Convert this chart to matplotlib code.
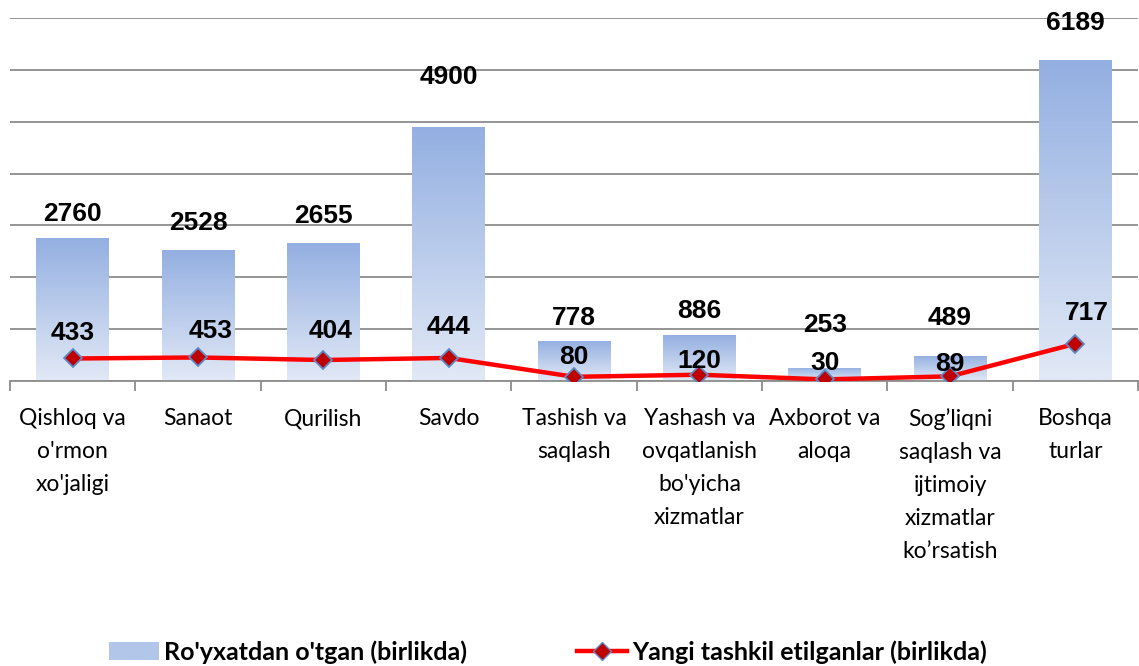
import matplotlib.pyplot as plt
import numpy as np
from matplotlib.colors import LinearSegmentedColormap
from matplotlib.lines import Line2D
from matplotlib.patches import Patch

categories = ["Qishloq va\no'rmon\nxo'jaligi", "Sanaot", "Qurilish", "Savdo",
              "Tashish va\nsaqlash", "Yashash va\novqatlanish\nbo'yicha\nxizmatlar",
              "Axborot va\naloqa", "Sog\u2019liqni\nsaqlash va\nijtimoiy\nxizmatlar\nko\u2019rsatish",
              "Boshqa\nturlar"]
registered = [2760, 2528, 2655, 4900, 778, 886, 253, 489, 6189]
new_created = [433, 453, 404, 444, 80, 120, 30, 89, 717]
legend_labels = ["Ro'yxatdan o'tgan (birlikda)", "Yangi tashkil etilganlar (birlikda)"]

# label offsets in points (manual placement as in the original)
bar_label_dy = [17, 19, 20, 36, 16, 17, 31, 27, 27]
line_label_dx = [0, 9, 5, 0, 0, 0, 0, 0, 8]
line_label_dy = [18, 19, 21, 22, 14, 10, 12, 9, 22]

plt.rcParams['font.family'] = ['Lato', 'DejaVu Sans']

fig = plt.figure(figsize=(11.39, 6.66), dpi=100)
ax = fig.add_axes([0.0088, 0.428, 0.9904, 0.545])

x = np.arange(len(categories))
bars = ax.bar(x, registered, width=0.58, color='none', edgecolor='none', zorder=2)

cmap = LinearSegmentedColormap.from_list('grad', ['#e2e9f6', '#93afe1'])
grad = np.linspace(0, 1, 256).reshape(-1, 1)
for b in bars:
    x0, y0 = b.get_x(), b.get_y()
    im = ax.imshow(grad, cmap=cmap, origin='lower', aspect='auto',
                   extent=[x0, x0 + b.get_width(), y0, y0 + b.get_height()], zorder=2)
    im.set_clip_path(b)

ax.plot(x, new_created, color='#ff0000', lw=3.2, marker='D', markersize=9,
        markerfacecolor='#c00000', markeredgecolor='#5b8bc9', markeredgewidth=1.3, zorder=4)

for i, v in enumerate(registered):
    ax.annotate(str(v), (x[i], v), xytext=(0, bar_label_dy[i]), textcoords='offset points',
                ha='center', va='center', fontsize=19, fontweight='bold',
                family=['Liberation Sans'], zorder=5)
for i, v in enumerate(new_created):
    ax.annotate(str(v), (x[i], v), xytext=(line_label_dx[i], line_label_dy[i]),
                textcoords='offset points', ha='center', va='center', fontsize=19,
                fontweight='bold', family=['Liberation Sans'], zorder=5)

ax.set_xlim(-0.5, len(categories) - 0.5)
ax.set_ylim(0, 7000)
ax.set_yticks(np.arange(0, 7001, 1000))
ax.yaxis.grid(True, color='#8c8c8c', lw=1.3)
ax.set_axisbelow(True)
ax.tick_params(axis='y', left=False, labelleft=False)

ax.set_xticks(x)
ax.set_xticklabels(categories, fontsize=16.5, linespacing=1.71)
ax.set_xticks(np.arange(-0.5, len(categories), 1), minor=True)
ax.tick_params(axis='x', which='major', length=0, pad=19.5, colors='black')
ax.tick_params(axis='x', which='minor', length=7, width=1.3, color='#8c8c8c')
for s in ['top', 'right', 'left']:
    ax.spines[s].set_visible(False)
ax.spines['bottom'].set_color('#8c8c8c')
ax.spines['bottom'].set_linewidth(1.3)

handles = [Patch(facecolor='#b2c6ea', edgecolor='none'),
           Line2D([0], [0], color='#ff0000', lw=3.2, marker='D', markersize=9,
                  markerfacecolor='#c00000', markeredgecolor='#5b8bc9')]
fig.legend(handles, legend_labels, loc='center', bbox_to_anchor=(0.481, 0.021), ncol=2,
           frameon=False, prop={'size': 18, 'weight': 'bold'}, columnspacing=4.4,
           handlelength=2.0, handletextpad=0.2)

fig.savefig('out.png', dpi=100)
